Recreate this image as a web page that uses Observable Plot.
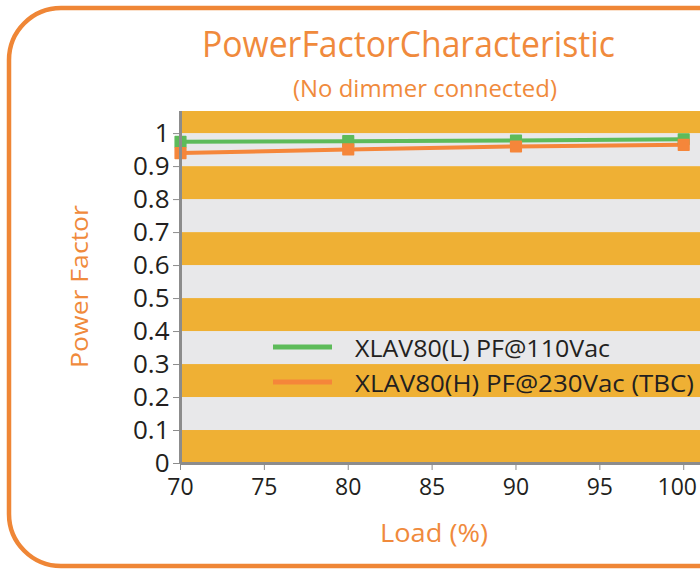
<!DOCTYPE html>
<html>
<head>
<meta charset="utf-8">
<script src="https://cdn.jsdelivr.net/npm/d3@7"></script>
<script src="https://cdn.jsdelivr.net/npm/@observablehq/plot@0.6"></script>
<style>
  html, body { margin: 0; padding: 0; background: #fff; }
  #chart svg { display: block; }
</style>
</head>
<body>
<div id="chart"></div>
<script>
// ---- data ----
const loads = [70, 80, 90, 100];
const pf110 = [0.975, 0.977, 0.979, 0.983];
const pf230 = [0.941, 0.952, 0.961, 0.966];
const seriesNames = ["XLAV80(L) PF@110Vac", "XLAV80(H) PF@230Vac (TBC)"];
const seriesColors = ["#5dbb5a", "#f5863a"];
const xTicks = [70, 75, 80, 85, 90, 95, 100];
const yTicks = [0, 0.1, 0.2, 0.3, 0.4, 0.5, 0.6, 0.7, 0.8, 0.9, 1];
const titleText = "PowerFactorCharacteristic";
const subtitleText = "(No dimmer connected)";
const xLabel = "Load (%)";
const yLabel = "Power Factor";

const yTop = 1.067;
const bands = yTicks.map((v, i) => ({
  y1: v, y2: i < yTicks.length - 1 ? yTicks[i + 1] : yTop,
  fill: i % 2 === 0 ? "#efb034" : "#e8e8ea"
}));

const rows = [];
seriesNames.forEach((name, s) => {
  const vals = s === 0 ? pf110 : pf230;
  loads.forEach((l, i) => rows.push({series: name, load: l, pf: vals[i]}));
});

const font = "'Open Sans', 'Noto Sans', sans-serif";
const axisColor = "#8c8c8c";

const plot = Plot.plot({
  width: 700,
  height: 572,
  marginLeft: 180,
  marginRight: 0,
  marginTop: 111,
  marginBottom: 109,
  style: {fontFamily: font, background: "transparent"},
  x: {domain: [70, 101], ticks: xTicks},
  y: {domain: [0, yTop], ticks: yTicks},
  color: {domain: seriesNames, range: seriesColors},
  marks: [
    Plot.rect(bands, {y1: "y1", y2: "y2", fill: "fill"}),
    Plot.line(rows, {x: "load", y: "pf", stroke: "series", strokeWidth: 4}),
    Plot.dot(rows, {x: "load", y: "pf", fill: "series", symbol: "square", r: 6, stroke: "series", strokeWidth: 1.5, strokeLinejoin: "round"}),
    Plot.ruleX([70], {stroke: axisColor, strokeWidth: 3}),
    Plot.ruleY([0], {stroke: axisColor, strokeWidth: 3}),
    Plot.axisX({ticks: xTicks, tickSize: 7, tickPadding: 8, fontSize: 23, stroke: axisColor, color: "#231f20", label: null, tickFormat: d => String(d)}),
    Plot.axisY({ticks: yTicks, tickSize: 7, tickPadding: 4, fontSize: 26, stroke: axisColor, color: "#231f20", label: null, tickFormat: d => String(d)})
  ]
});

document.getElementById("chart").appendChild(plot);
const svg = d3.select(plot);
const svgLeft = plot.getBoundingClientRect().left;
svg.selectAll("g[aria-label='x-axis tick label'] text").each(function() {
  const t = d3.select(this);
  const box = this.getBoundingClientRect();
  const over = box.right - svgLeft - 697;
  if (over > 0) t.attr("dx", -over);
});

// rounded frame
svg.append("rect")
  .attr("x", 9).attr("y", 8).attr("width", 740).attr("height", 558)
  .attr("rx", 52).attr("ry", 52)
  .attr("fill", "none").attr("stroke", "#ef8636").attr("stroke-width", 4.5);

const orange = "#f08a3c";
const addText = (txt, x, y, len, size, fill, transform) => {
  const t = svg.append("text").text(txt)
    .attr("text-anchor", "start")
    .attr("textLength", len).attr("lengthAdjust", "spacingAndGlyphs")
    .attr("font-family", font).attr("font-size", size).attr("fill", fill);
  if (transform) t.attr("transform", transform).attr("x", 0).attr("y", 0);
  else t.attr("x", x).attr("y", y);
  return t;
};
addText(titleText, 202, 57, 413, 37, orange);
addText(subtitleText, 293, 97, 264, 23, orange);
addText(xLabel, 380, 542, 108, 26, orange);
addText(yLabel, 0, 0, 163, 24, orange, "translate(88,368) rotate(-90)");

// legend
const legY = [347, 382];
seriesNames.forEach((name, i) => {
  svg.append("line")
    .attr("x1", 273).attr("x2", 332).attr("y1", legY[i]).attr("y2", legY[i])
    .attr("stroke", seriesColors[i]).attr("stroke-width", 5);
  addText(name, 355, legY[i] + 10, i === 0 ? 255 : 339, 23, "#231f20");
});
</script>
</body>
</html>
